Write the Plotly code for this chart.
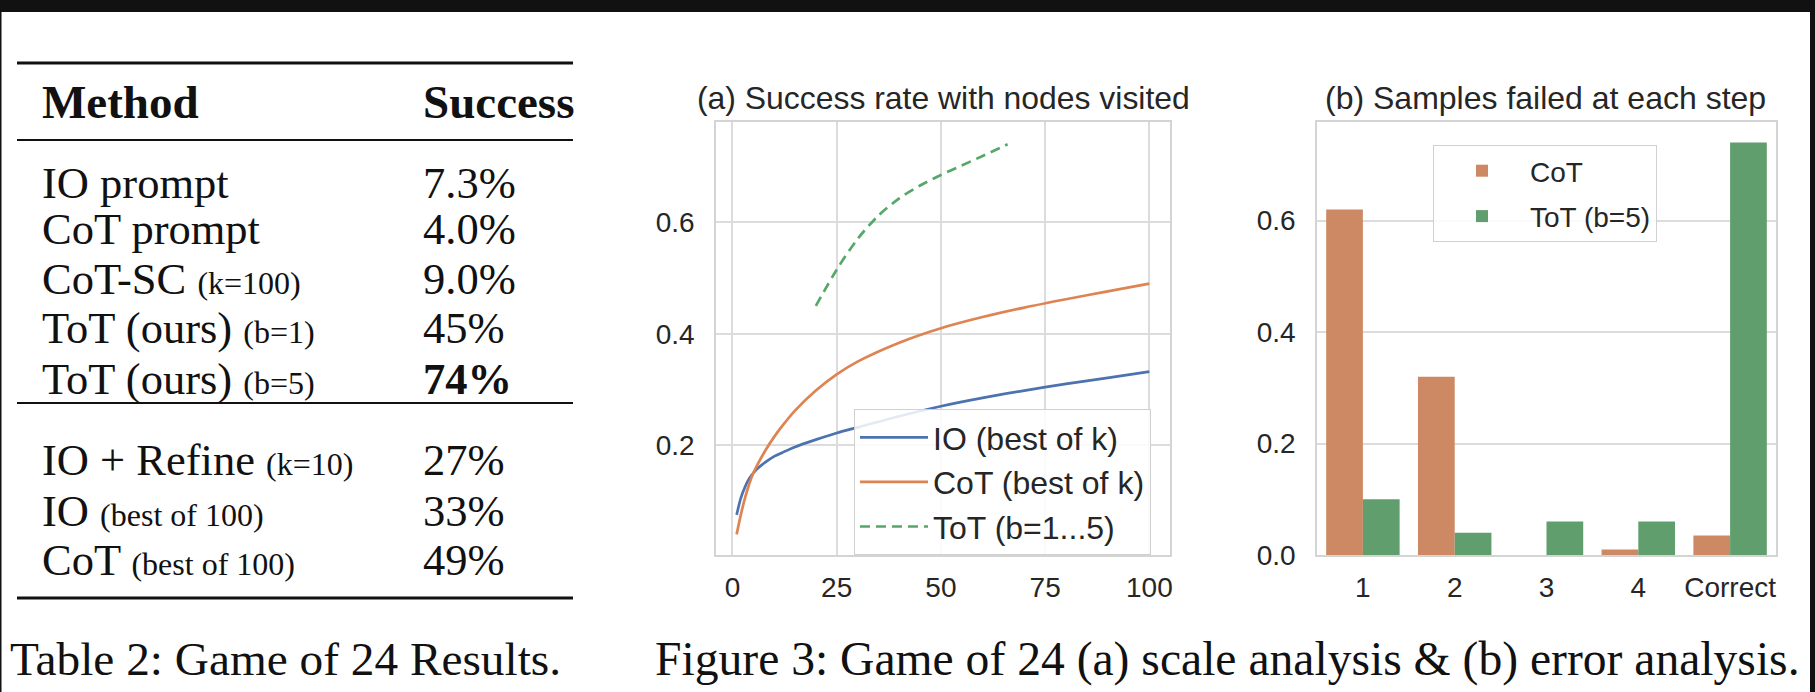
import plotly.graph_objects as go

# ---------------- data ----------------
# Table 2
methods = ["IO prompt", "CoT prompt", "CoT-SC", "ToT (ours)", "ToT (ours)",
           "IO + Refine", "IO", "CoT"]
method_notes = ["", "", "(k=100)", "(b=1)", "(b=5)", "(k=10)", "(best of 100)", "(best of 100)"]
success = ["7.3%", "4.0%", "9.0%", "45%", "74%", "27%", "33%", "49%"]
best_row = 4

# Figure 3 (a): success rate vs nodes visited
k_nodes = [1, 2, 3, 4, 5, 6, 8, 10, 12, 15, 20, 25, 30, 40, 50, 60, 70, 80, 90, 100]
io_rate = [0.075, 0.105, 0.125, 0.14, 0.15, 0.158, 0.17, 0.18, 0.187, 0.197, 0.21, 0.222,
           0.232, 0.252, 0.27, 0.285, 0.298, 0.31, 0.321, 0.332]
cot_rate = [0.04, 0.075, 0.105, 0.13, 0.15, 0.165, 0.192, 0.215, 0.235, 0.262, 0.298, 0.327,
            0.35, 0.384, 0.41, 0.43, 0.447, 0.462, 0.476, 0.49]
tot_nodes = [20, 25, 30, 35, 40, 45, 50, 55, 60, 66]
tot_rate = [0.45, 0.515, 0.57, 0.612, 0.643, 0.666, 0.685, 0.702, 0.719, 0.74]

# Figure 3 (b): samples failed at each step
steps = ["1", "2", "3", "4", "Correct"]
cot_fail = [0.62, 0.32, 0.0, 0.01, 0.035]
tot_fail = [0.10, 0.04, 0.06, 0.06, 0.74]

# ---------------- layout helpers ----------------
W, H = 1815, 692
def px(x):
    return x / W
def py(y):
    return 1 - y / H

SANS = "Liberation Sans, Arial, sans-serif"
SERIF = "Liberation Serif, Times New Roman, serif"
TXT = "#262626"
GRID = "#dcdcdc"
FRAME = "#d4d4d4"
INK = "#111111"

fig = go.Figure()
fig.add_trace(go.Scatter(x=k_nodes, y=io_rate, mode="lines", name="IO (best of k)",
                         line=dict(color="#4c72b0", width=2.7, shape="spline", smoothing=0.8),
                         xaxis="x", yaxis="y", legend="legend", legendgroup="a1"))
fig.add_trace(go.Scatter(x=k_nodes, y=cot_rate, mode="lines", name="CoT (best of k)",
                         line=dict(color="#dd8452", width=2.7, shape="spline", smoothing=0.8),
                         xaxis="x", yaxis="y", legend="legend", legendgroup="a2"))
fig.add_trace(go.Scatter(x=tot_nodes, y=tot_rate, mode="lines", name="ToT (b=1...5)",
                         line=dict(color="#55a868", width=2.7, dash="10px,6px", shape="spline", smoothing=0.8),
                         xaxis="x", yaxis="y", legend="legend", legendgroup="a3"))
fig.add_trace(go.Bar(x=steps, y=cot_fail, name="CoT", marker=dict(color="#cc8963", line=dict(width=0)),
                     xaxis="x2", yaxis="y2", legend="legend2", legendgroup="b1"))
fig.add_trace(go.Bar(x=steps, y=tot_fail, name="ToT (b=5)", marker=dict(color="#609e6e", line=dict(width=0)),
                     xaxis="x2", yaxis="y2", legend="legend2", legendgroup="b2"))

axis_common = dict(showline=True, linecolor=FRAME, linewidth=1.5, mirror=True,
                   zeroline=False, gridcolor=GRID, gridwidth=1.5, automargin=False,
                   tickfont=dict(family=SANS, size=28, color=TXT), ticks="")

fig.update_layout(
    width=W, height=H, margin=dict(l=0, r=0, t=0, b=0, autoexpand=False),
    paper_bgcolor="white", plot_bgcolor="white",
    barmode="group", bargap=0.2, bargroupgap=0.0,
    xaxis=dict(domain=[px(716), px(1170)], range=[-3.95, 104.95],
               tickvals=[0, 25, 50, 75, 100], anchor="y", showgrid=True,
               ticklabelstandoff=7, **axis_common),
    yaxis=dict(domain=[py(555), py(122)], range=[0.003, 0.78],
               tickvals=[0.2, 0.4, 0.6], tickformat=".1f", anchor="x", showgrid=True,
               ticklabelstandoff=14, **axis_common),
    xaxis2=dict(domain=[px(1317), px(1776)], type="category", range=[-0.5, 4.5],
                anchor="y2", showgrid=False, ticklabelstandoff=7, **axis_common),
    yaxis2=dict(domain=[py(555), py(122)], range=[0, 0.777],
                tickvals=[0, 0.2, 0.4, 0.6], tickformat=".1f", anchor="x2", showgrid=True,
                ticklabelstandoff=14, **axis_common),
    legend=dict(x=px(854), y=py(409), xanchor="left", yanchor="top",
                bgcolor="rgba(255,255,255,0.85)", bordercolor="#d0d0d0", borderwidth=1,
                font=dict(family=SANS, size=32, color=TXT), tracegroupgap=0,
                traceorder="grouped", itemwidth=68),
    legend2=dict(x=px(1433), y=py(145), xanchor="left", yanchor="top",
                 bgcolor="rgba(255,255,255,0.85)", bordercolor="#d0d0d0", borderwidth=1,
                 font=dict(family=SANS, size=28, color=TXT), tracegroupgap=6,
                 traceorder="grouped", itemwidth=86),
    showlegend=True,
)

shapes = []
# dark screenshot band at top and thin side borders
shapes.append(dict(type="rect", xref="paper", yref="paper", x0=0, x1=1, y0=py(12), y1=1,
                   fillcolor=INK, line=dict(width=0), layer="above"))
shapes.append(dict(type="rect", xref="paper", yref="paper", x0=0, x1=px(1.5), y0=0, y1=1,
                   fillcolor=INK, line=dict(width=0), layer="above"))
shapes.append(dict(type="rect", xref="paper", yref="paper", x0=px(1810), x1=1, y0=0, y1=1,
                   fillcolor=INK, line=dict(width=0), layer="above"))
# booktabs rules
for yy, lw in [(63, 3), (140, 1.8), (403, 1.8), (598, 3)]:
    shapes.append(dict(type="line", xref="paper", yref="paper", x0=px(17), x1=px(573),
                       y0=py(yy), y1=py(yy), line=dict(color=INK, width=lw)))

annotations = []
annotations.append(dict(text="(a) Success rate with nodes visited", x=px(944), y=py(98),
                        xref="paper", yref="paper", showarrow=False, xanchor="center", yanchor="middle",
                        font=dict(family=SANS, size=31.9, color=TXT)))
annotations.append(dict(text="(b) Samples failed at each step", x=px(1545), y=py(98),
                        xref="paper", yref="paper", showarrow=False, xanchor="center", yanchor="middle",
                        font=dict(family=SANS, size=32, color=TXT)))

col1, col2 = 40, 421
annotations.append(dict(text="<b>Method</b>", x=px(col1), y=py(102), xref="paper", yref="paper",
                        showarrow=False, xanchor="left", yanchor="middle",
                        font=dict(family=SERIF, size=47, color=INK)))
annotations.append(dict(text="<b>Success</b>", x=px(col2), y=py(102), xref="paper", yref="paper",
                        showarrow=False, xanchor="left", yanchor="middle",
                        font=dict(family=SERIF, size=47, color=INK)))
row_y = [183, 229, 279, 328, 379, 460, 511, 560]
for i, (m, n, s) in enumerate(zip(methods, method_notes, success)):
    label = m if not n else f"{m} <span style='font-size:32px'>{n}</span>"
    val = f"<b>{s}</b>" if i == best_row else s
    annotations.append(dict(text=label, x=px(col1), y=py(row_y[i]), xref="paper", yref="paper",
                            showarrow=False, xanchor="left", yanchor="middle",
                            font=dict(family=SERIF, size=44.5, color=INK)))
    annotations.append(dict(text=val, x=px(col2), y=py(row_y[i]), xref="paper", yref="paper",
                            showarrow=False, xanchor="left", yanchor="middle",
                            font=dict(family=SERIF, size=44.5, color=INK)))

annotations.append(dict(text="Table 2: Game of 24 Results.", x=px(8), y=py(659), xref="paper", yref="paper",
                        showarrow=False, xanchor="left", yanchor="middle",
                        font=dict(family=SERIF, size=47.3, color=INK)))
annotations.append(dict(text="Figure 3: Game of 24 (a) scale analysis &amp; (b) error analysis.",
                        x=px(653), y=py(659), xref="paper", yref="paper",
                        showarrow=False, xanchor="left", yanchor="middle",
                        font=dict(family=SERIF, size=47.6, color=INK)))
fig.update_layout(shapes=shapes, annotations=annotations)

# remove the page's default body margin so the figure fills the window exactly
fig.write_html("out.html", config={"displayModeBar": False},
               post_script="document.body.style.margin='0px';")
